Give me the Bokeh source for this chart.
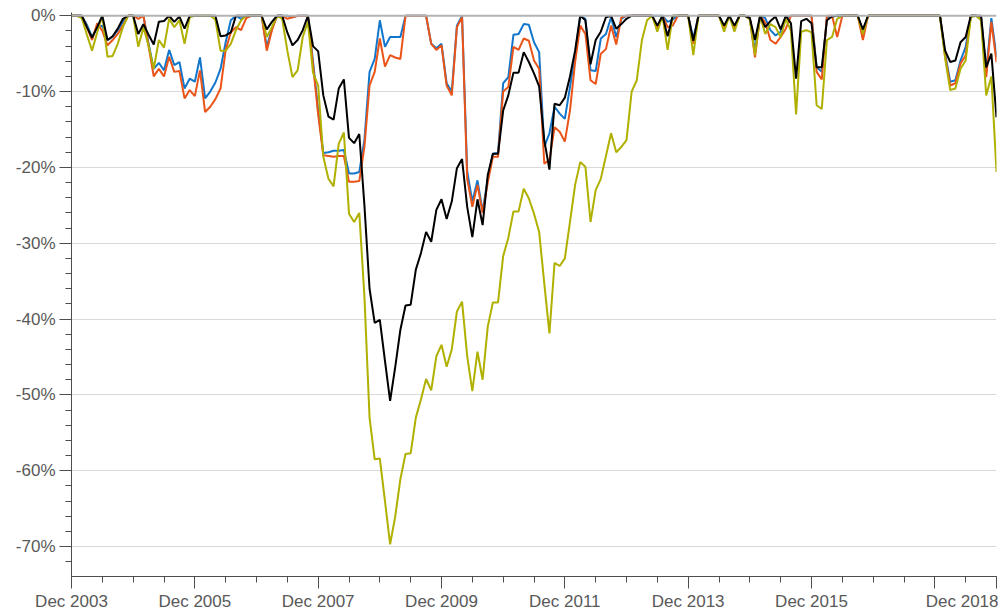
from bokeh.plotting import figure
from bokeh.models import FixedTicker, Span
from bokeh.embed import file_html
from bokeh.resources import INLINE

# Month index: 0 = Dec 2003 ... 180 = Dec 2018
months = list(range(181))

tick_months = [0, 24, 48, 72, 96, 120, 144, 168, 180]
minor_months = list(range(0, 181, 6))
tick_labels = ["Dec 2003", "Dec 2005", "Dec 2007", "Dec 2009", "Dec 2011",
               "Dec 2013", "Dec 2015", "", "Dec 2018"]

y_ticks = [0, -10, -20, -30, -40, -50, -60, -70]
y_labels = ["0%", "-10%", "-20%", "-30%", "-40%", "-50%", "-60%", "-70%"]

black = [0, 0, 0, -1.5, -2.9, -1.5, 0, -3.2, -2.7, -1.7,
         -0.4, 0, 0, -2.4, -1.1, -2.5, -3.8, -0.8, -0.7, 0,
         -0.8, -0.1, -1.7, 0, 0, 0, 0, 0, 0, -2.7,
         -2.6, -2.2, 0, 0, 0, 0, 0, 0, -1.8, -0.8,
         0, 0, -2.2, -3.9, -3.2, -1.9, 0, -4.0, -4.7, -10.5,
         -13.3, -13.7, -9.6, -8.4, -16.1, -16.8, -15.6, -25, -36, -40.5,
         -40.1, -45.5, -50.8, -46.3, -41.4, -38.2, -38.1, -33.5, -31.3, -28.5,
         -29.8, -25.6, -24.2, -26.8, -24.5, -20.1, -18.9, -25.2, -29.2, -24.2,
         -27.6, -21, -18.2, -18.2, -12.5, -10.5, -7.5, -7.5, -4.8, -6.1,
         -7.6, -9.3, -16.4, -20.3, -11.6, -11.8, -10.8, -8, -4.6, 0,
         -0.6, -6.4, -3.2, -2.1, -0.2, 0, -1.7, -1.1, -0.4, 0,
         0, 0, 0, 0, -1.3, 0, -2.7, 0, 0, 0,
         0, -3.3, 0, 0, 0, 0, 0, -1.3, 0, -1.3,
         0, 0, -0.3, -3.2, 0, -1.5, -0.7, -0.1, -1.8, 0,
         -1, -8.3, -0.7, -0.4, -1, -6.8, -6.8, -0.6, -0.1, 0,
         0, 0, 0, 0, -1.8, 0, 0, 0, 0, 0,
         0, 0, 0, 0, 0, 0, 0, 0, 0, 0,
         -4.6, -6.1, -5.9, -3.5, -2.8, 0, 0, 0, -6.8, -5,
         -13.4]

blue = [0, 0, 0, -1.2, -2.8, -1.5, -1.3, -3.2, -2.8, -1.9,
        -0.8, 0, 0, 0, 0, -3.7, -7, -6.2, -7.2, -4.5,
        -6.5, -6.1, -9.6, -8.3, -8.7, -5.5, -10.9, -10, -8.8, -7,
        -3.5, -0.6, 0, -0.4, 0, 0, 0, 0, -4.1, -1.7,
        0, 0, 0, -0.2, 0, 0, 0, -6, -12.5, -18.1,
        -18, -17.8, -17.8, -17.7, -20.8, -20.8, -20.6, -16.4, -7.4, -5.7,
        -0.6, -4.1, -2.8, -2.8, -2.8, 0, 0, 0, 0, 0,
        -3.7, -4.3, -3.7, -8.9, -10, -1.3, 0, -20.5, -24.5, -21.7,
        -25.8, -21.5, -18.2, -18.1, -8.9, -8.1, -2.5, -2.4, -1.1, -1.2,
        -3.5, -4.8, -17.3, -15.5, -12, -12.9, -13.6, -9.4, -5, 0,
        -0.4, -7.2, -7.3, -3, -2.4, -0.2, -2.8, -0.4, 0, 0,
        0, 0, 0, 0, 0, 0, -0.8, -0.5, 0, 0,
        0, -3, 0, 0, 0, 0, 0, -1.5, 0, -1.5,
        0, 0, -0.3, -4.6, 0, -0.3, -1.9, -2.6, -2.1, -0.2,
        0, 0, 0, 0, 0, -6.8, -7.4, -0.2, 0, 0,
        0, 0, 0, 0, -2.1, 0, 0, 0, 0, 0,
        0, 0, 0, 0, 0, 0, 0, 0, 0, 0,
        -5, -8.7, -8.5, -5.9, -4.1, 0, 0, -0.2, -7.3, -0.3,
        -5.4]

orange = [0, 0, 0, -1.5, -3.2, -1.0, -2.0, -3.9, -3.2, -2.4,
          -1.3, 0, 0, -0.4, 0, -4, -8, -7, -8, -5.4,
          -7.4, -7.3, -10.9, -9.8, -10.6, -7.2, -12.7, -12, -11, -9.6,
          -4.5, -2.2, -1.5, -1.9, -0.3, 0, 0, 0, -4.6, -1.9,
          0, 0, -0.4, -0.2, 0, 0, 0, -6.5, -13, -18.4,
          -18.5, -18.6, -18.5, -18.5, -21.9, -21.9, -21.8, -17.3, -9.2, -7.4,
          -3, -6.7, -5.2, -5.5, -5.7, 0, 0, 0, 0, 0,
          -3.7, -4.5, -3.9, -9.2, -10.5, -1.5, -0.2, -21.5, -25.2, -22.3,
          -26, -22, -18.6, -18.6, -10, -9.4, -4.1, -4.5, -3, -3.3,
          -5.9, -7, -19.5, -19, -14.7, -15.3, -16.6, -12.5, -6.1, -1.3,
          -2.4, -8.5, -9, -5, -4.4, -1.3, -3.8, -0.2, 0, 0,
          0, 0, 0, 0, -1.7, 0, -1.5, -1.3, 0, 0,
          0, -3.7, 0, 0, 0, 0, 0, -1.7, 0, -1.7,
          0, 0, -0.3, -5.5, 0, -0.9, -3.2, -3.7, -2.8, -1.7,
          0, 0, 0, 0, 0, -7.4, -8.4, 0, 0, -2.8,
          0, 0, 0, 0, -3.2, 0, 0, 0, 0, 0,
          0, 0, 0, 0, 0, 0, 0, 0, 0, 0,
          -5.3, -9.2, -8.9, -6.3, -5.2, 0, 0, -0.4, -8.1, -0.8,
          -6.1]

olive = [0, 0, -0.3, -2.5, -4.6, -2.2, 0, -5.4, -5.3, -3.7,
         -1.5, 0, 0, -4.1, -1.5, -4, -7, -3.2, -4.2, -0.4,
         -1.5, -0.6, -3.7, -0.2, 0, 0, 0, 0, -0.5, -4.6,
         -4.6, -3.7, -1.9, -0.6, 0, 0, 0, 0, -2.8, -1.5,
         0, -0.4, -4.6, -8.1, -7.2, -2.8, -0.8, -7.5, -9.2, -18.6,
         -21.5, -22.5, -16.9, -15.4, -26.1, -27.2, -26, -37, -53, -58.5,
         -58.4, -64, -69.7, -66, -61.1, -57.8, -57.7, -53, -50.6, -47.9,
         -49.4, -44.9, -43.4, -46.3, -44, -39, -37.7, -44.9, -49.5, -44.3,
         -48, -41, -37.8, -37.8, -31.7, -29.3, -25.8, -25.8, -22.8, -24.1,
         -26.1, -28.5, -35.3, -41.9, -32.6, -33, -32, -27.2, -22.3, -19.3,
         -19.9, -27.2, -23, -21.5, -18.5, -15.5, -18, -17.3, -16.4, -10,
         -8.5, -3.2, -0.6, 0, -2.1, 0, -4.5, 0, 0, 0,
         0, -5.2, 0, 0, 0, 0, 0, -2.1, 0, -2.1,
         0, 0, -0.5, -5.2, 0, -2.4, -1.1, -1.5, -2.8, -0.4,
         -2, -13, -2.1, -1.9, -2.2, -11.8, -12.3, -3.2, -2.8, -0.4,
         0, 0, 0, 0, -2.4, 0, 0, 0, 0, 0,
         0, 0, 0, 0, 0, 0, 0, 0, 0, 0,
         -5.6, -9.8, -9.6, -7, -5.9, -0.2, 0, -0.6, -10.5, -8,
         -20.6]

for s in (black, blue, orange, olive):
    assert len(s) == len(months)

FONT = "Liberation Sans"
TXT = "#595959"
AX = "#4d4d4d"

p = figure(width=998, height=613, x_range=(0, 180), y_range=(-73.95, 0.43),
           output_backend="svg", toolbar_location=None,
           min_border_left=71, min_border_right=2, min_border_top=12,
           min_border_bottom=35)
p.outline_line_color = None

p.xgrid.grid_line_color = None
p.ygrid.grid_line_color = "#d9d9d9"
p.ygrid.grid_line_width = 1

ya = p.yaxis[0]
ya.ticker = FixedTicker(ticks=y_ticks, minor_ticks=list(range(-74, 1, 2)))
ya.major_label_overrides = {t: l for t, l in zip(y_ticks, y_labels)}
ya.major_label_standoff = 4

xa = p.xaxis[0]
xa.ticker = FixedTicker(ticks=tick_months, minor_ticks=minor_months)
xa.major_label_overrides = {t: l for t, l in zip(tick_months, tick_labels)}
xa.major_label_standoff = 3

for ax in (xa, ya):
    ax.axis_line_color = AX
    ax.axis_line_width = 1
    ax.major_tick_line_color = AX
    ax.minor_tick_line_color = AX
    ax.major_tick_in = 0
    ax.minor_tick_in = 0
    ax.major_tick_out = 12
    ax.minor_tick_out = 6
    ax.major_label_text_font = FONT
    ax.major_label_text_font_size = "17px"
    ax.major_label_text_color = TXT

p.add_layout(Span(location=0, dimension="width", line_color="#b3b3b3", line_width=2))

p.line(months, blue, line_color="#1277cc", line_width=2)
p.line(months, orange, line_color="#ea5418", line_width=2)
p.line(months, olive, line_color="#b0b000", line_width=2)
p.line(months, black, line_color="#000000", line_width=2)

open("out.html", "w").write(file_html(p, INLINE))
